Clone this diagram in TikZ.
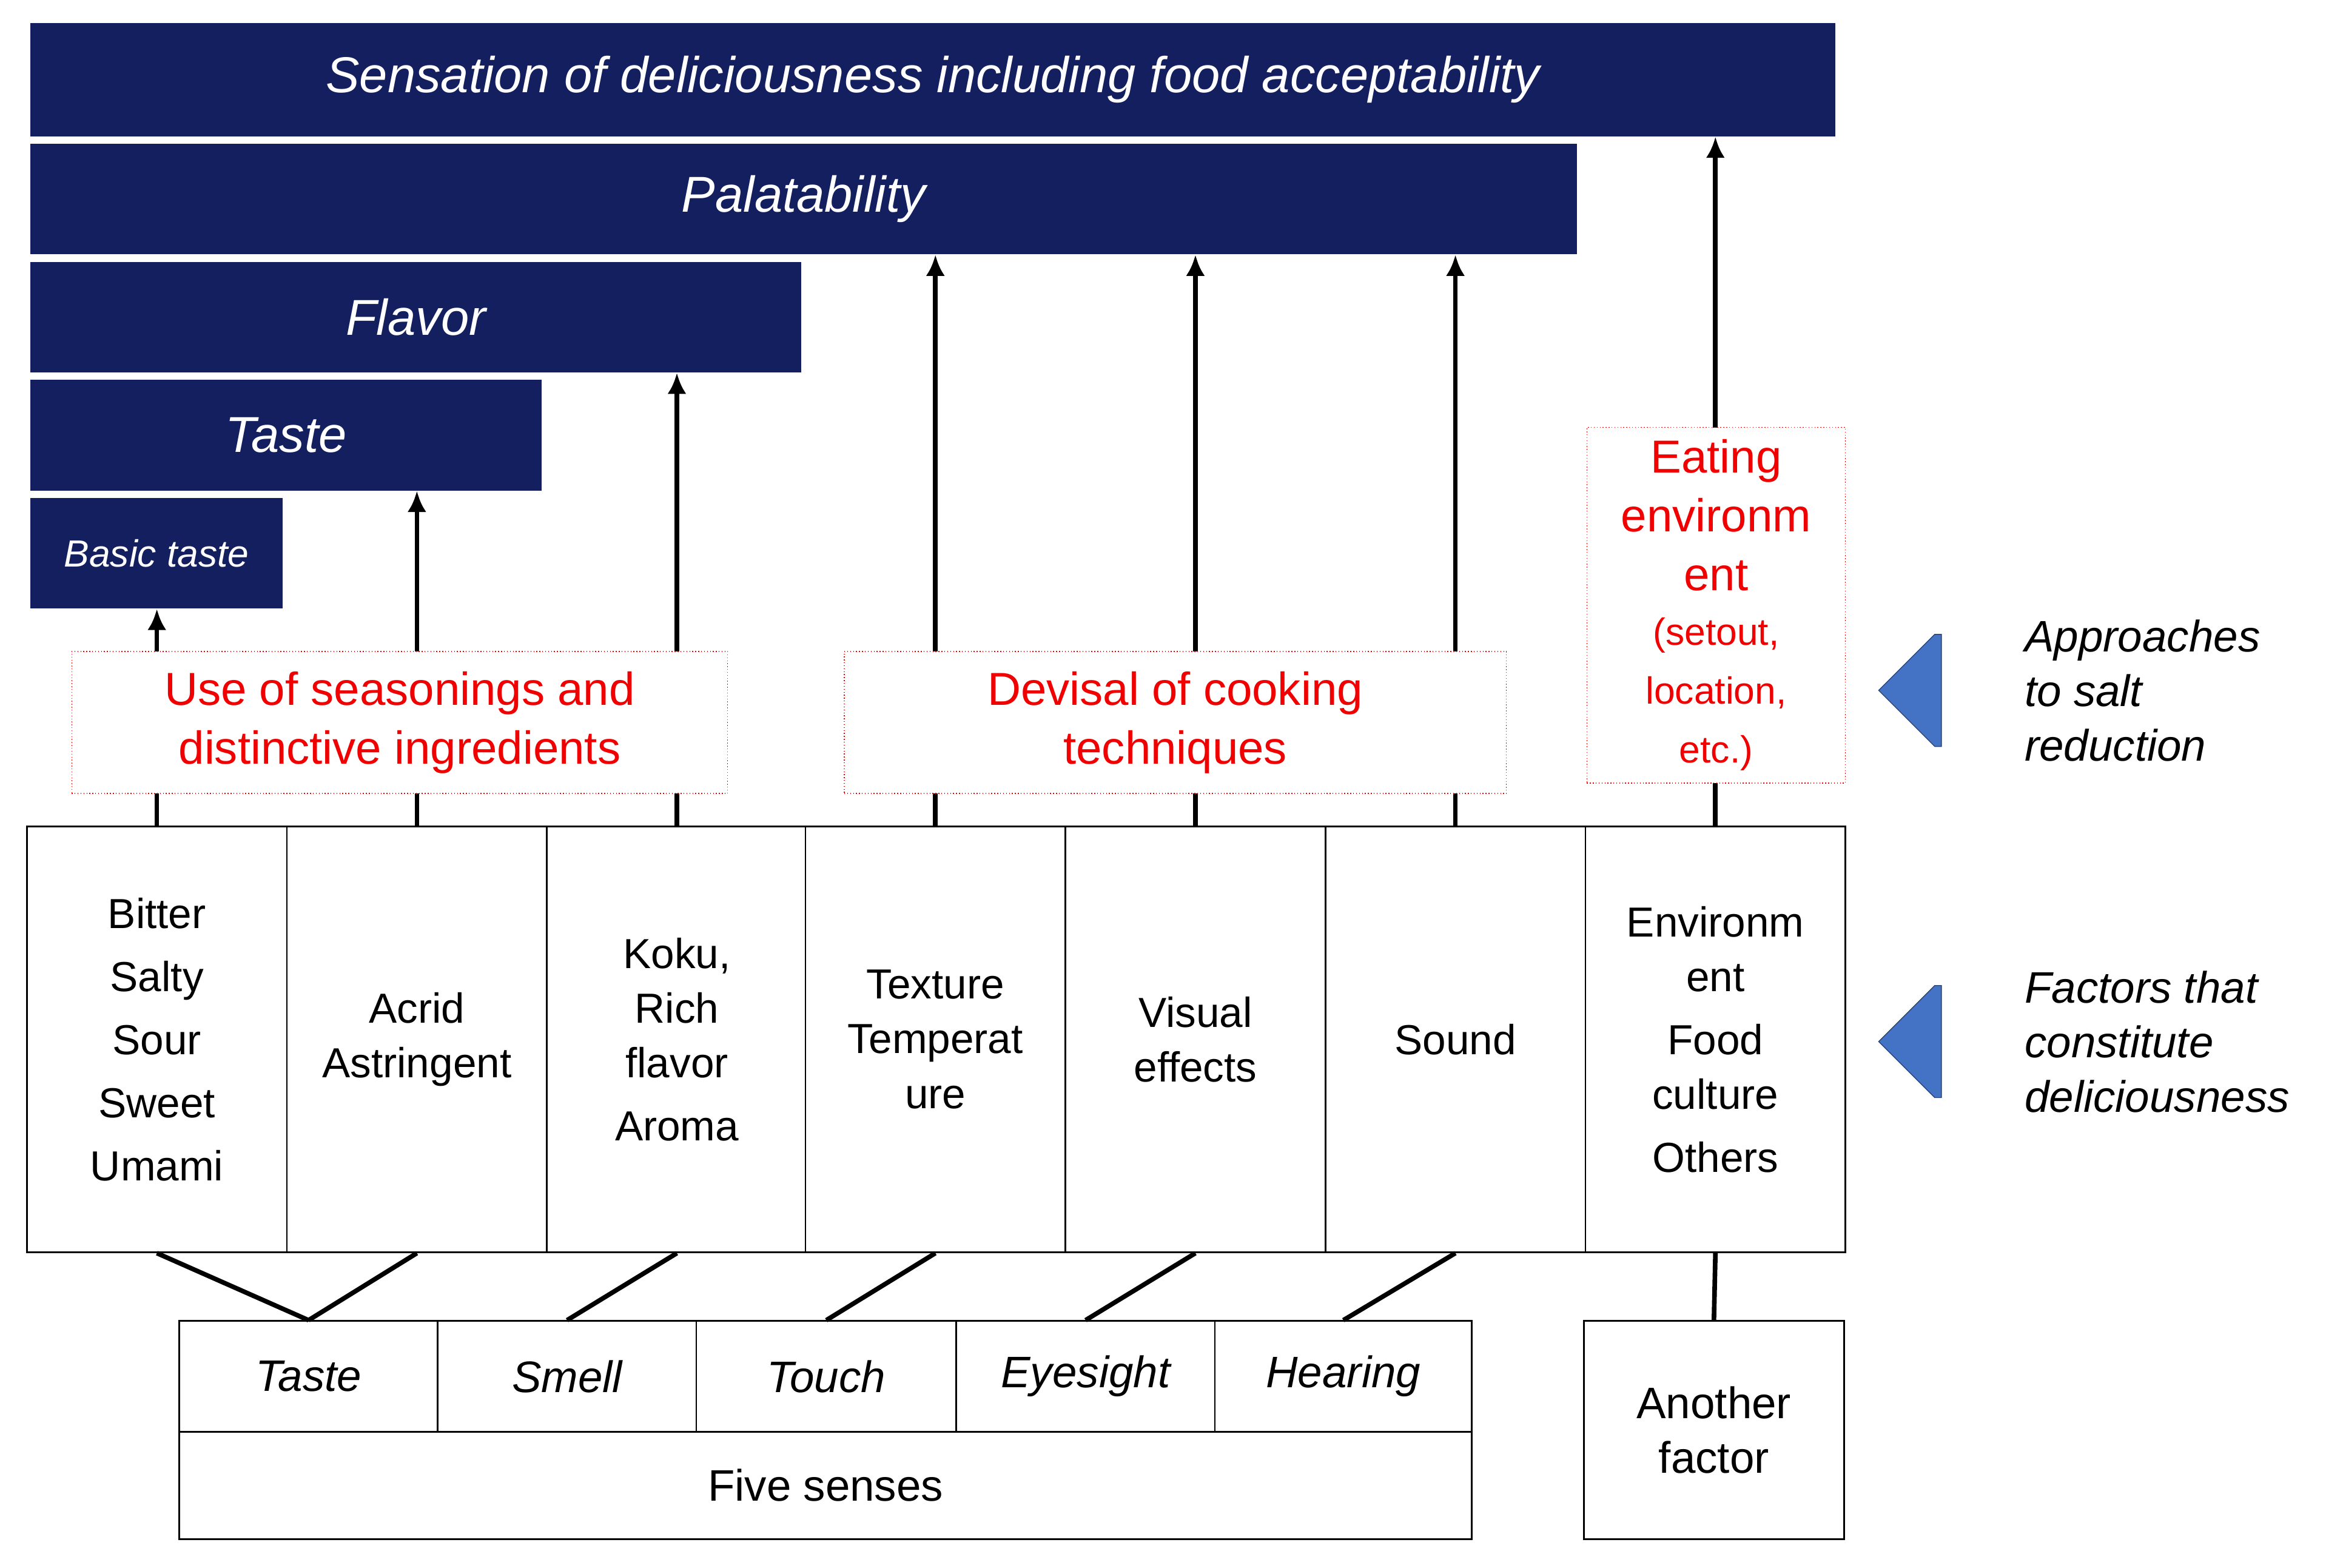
\documentclass[tikz,border=0pt]{standalone}
\usepackage{fontspec}
\setmainfont{Liberation Sans}
\usetikzlibrary{arrows.meta,shapes.arrows}
\definecolor{navy}{HTML}{131F5E}
\definecolor{ared}{HTML}{F00000}
\definecolor{ablue}{HTML}{4472C4}
\begin{document}
\begin{tikzpicture}[x=0.025cm,y=-0.025cm,
 bar/.style={fill=navy,draw=none,text=white,font=\fontsize{24}{28}\selectfont\itshape,inner sep=0,anchor=north west},
 red/.style={draw=ared,densely dotted,fill=white,text=ared,align=center,inner sep=0,font=\fontsize{22}{28}\selectfont},
 fac/.style={draw,thick,fill=white,align=center,inner sep=0,font=\fontsize{20}{26}\selectfont},
 sen/.style={draw,thick,align=center,inner sep=0,font=\fontsize{21}{26}\selectfont\itshape},
 arr/.style={line width=2.2pt,-{Latex[length=10pt,width=9pt]}},
 ln/.style={line width=2.2pt},
 side/.style={align=left,anchor=west,font=\fontsize{21}{26}\selectfont\itshape}]
\useasboundingbox (0,0) rectangle (1568,1049);
\node[bar,minimum width=1208*0.025cm,minimum height=76*0.025cm] (b1) at (20,15) {\hspace*{0pt}Sensation of deliciousness including food acceptability};
\node[bar,minimum width=1035*0.025cm,minimum height=74*0.025cm] (b2) at (20,96) {Palatability};
\node[bar,minimum width=516*0.025cm,minimum height=74*0.025cm] (b3) at (20,175) {Flavor};
\node[bar,minimum width=342*0.025cm,minimum height=74*0.025cm] (b4) at (20,254) {Taste};
\node[bar,minimum width=169*0.025cm,minimum height=74*0.025cm,font=\fontsize{18}{22}\selectfont\itshape] (b5) at (20,333) {Basic taste};
% factor boxes
\foreach \n/\x/\t in {f1/105/{Bitter\\[4pt]Salty\\[4pt]Sour\\[4pt]Sweet\\[4pt]Umami},
 f2/279/{Acrid\\Astringent},
 f3/453/{Koku,\\Rich\\flavor\\[4pt]Aroma},
 f4/626/{Texture\\Temperat\\ure},
 f5/800/{Visual\\effects},
 f6/974/{Sound},
 f7/1148/{Environm\\ent\\[4pt]Food\\culture\\[4pt]Others}}
 \node[fac,minimum width=174*0.025cm,minimum height=285*0.025cm] (\n) at (\x,695.5) {\t};
% vertical lines
\draw[arr] (f1.north) -- (f1.north |- b5.south);
\draw[arr] (f2.north) -- (f2.north |- b4.south);
\draw[arr] (f3.north) -- (f3.north |- b3.south);
\draw[arr] (f4.north) -- (f4.north |- b2.south);
\draw[arr] (f5.north) -- (f5.north |- b2.south);
\draw[arr] (f6.north) -- (f6.north |- b2.south);
\draw[arr] (f7.north) -- (f7.north |- b1.south);
% red boxes
\node[red,minimum width=439*0.025cm,minimum height=95*0.025cm] (r1) at (267.5,483.5) {Use of seasonings and\\distinctive ingredients};
\node[red,minimum width=443*0.025cm,minimum height=95*0.025cm] (r2) at (786.5,483.5) {Devisal of cooking\\techniques};
\node[red,minimum width=173*0.025cm,minimum height=238*0.025cm] (r3) at (1148.5,405) {Eating\\environm\\ent\\[-2pt]{\fontsize{18}{21}\selectfont(setout,}\\{\fontsize{18}{21}\selectfont location,}\\{\fontsize{18}{21}\selectfont etc.)}};
% five senses
\node[sen,minimum width=173*0.025cm,minimum height=74*0.025cm] (s1) at (206.5,921) {Taste};
\node[sen,minimum width=173*0.025cm,minimum height=74*0.025cm] (s2) at (379.5,921) {Smell};
\node[sen,minimum width=174*0.025cm,minimum height=74*0.025cm] (s3) at (553,921) {Touch};
\node[sen,minimum width=173*0.025cm,minimum height=74*0.025cm] (s4) at (726.5,921) {Eyesight};
\node[sen,minimum width=172*0.025cm,minimum height=74*0.025cm] (s5) at (899,921) {Hearing};
\node[sen,font=\fontsize{21}{26}\selectfont,minimum width=865*0.025cm,minimum height=72*0.025cm] (fs) at (552.5,994) {Five senses};
\node[fac,font=\fontsize{21}{26}\selectfont,minimum width=174*0.025cm,minimum height=146*0.025cm] (an) at (1147,957) {Another\\factor};
% connectors
\draw[ln] (f1.south) -- (s1.north);
\draw[ln] (f2.south) -- (s1.north);
\draw[ln] (f3.south) -- (s2.north);
\draw[ln] (f4.south) -- (s3.north);
\draw[ln] (f5.south) -- (s4.north);
\draw[ln] (f6.south) -- (s5.north);
\draw[ln] (f7.south) -- (an.north);
% side arrows
\node[single arrow,shape border rotate=180,fill=ablue,draw=ablue!60!black,minimum height=42*0.025cm,minimum width=75*0.025cm,single arrow head extend=0pt,inner sep=0] (a1) at (1297,462) {};
\node[single arrow,shape border rotate=180,fill=ablue,draw=ablue!60!black,minimum height=42*0.025cm,minimum width=75*0.025cm,single arrow head extend=0pt,inner sep=0] (a2) at (1297,697) {};
\node[side] (t1) at (1350,462) {Approaches\\to salt\\reduction};
\node[side] (t2) at (1350,697) {Factors that\\constitute\\deliciousness};
\end{tikzpicture}
\end{document}
